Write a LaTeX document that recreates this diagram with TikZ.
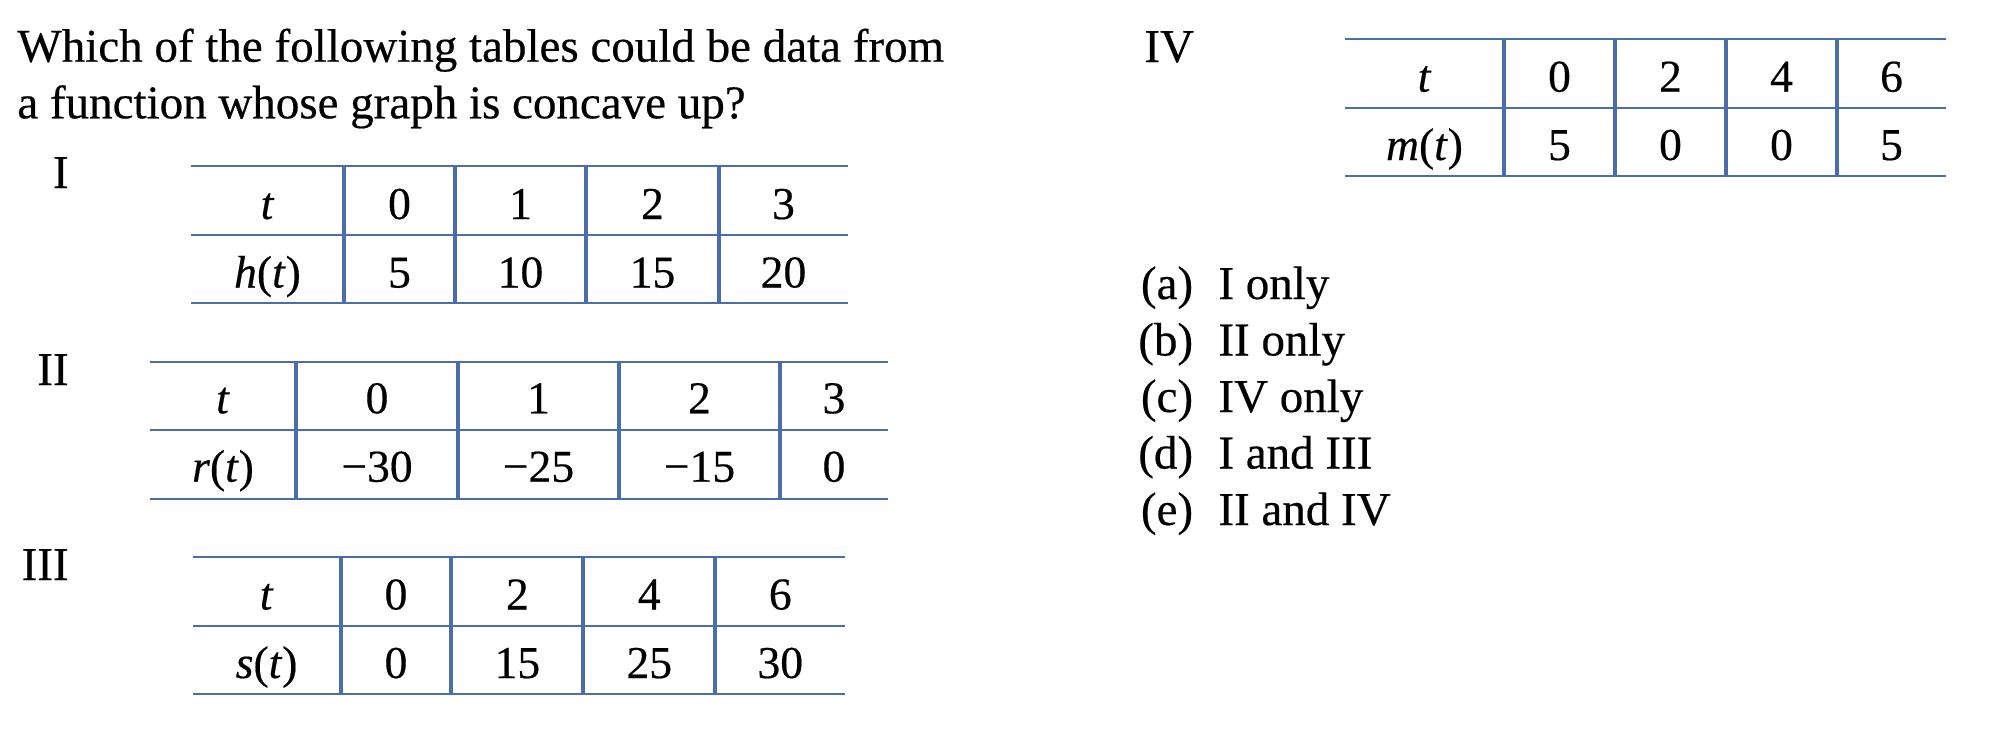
\documentclass[tikz,border=0pt]{standalone}
\usepackage{fontspec}
\setmainfont{Liberation Serif}[FakeBold=0.4]
\definecolor{rulec}{RGB}{76,110,168}
\begin{document}
\begin{tikzpicture}[x=0.5pt,y=-0.5pt,
  hrule/.style={draw=rulec,line width=1.15pt},
  vrule/.style={draw=rulec,line width=2pt},
  cell/.style={anchor=base,inner sep=0pt,font=\fontsize{22.8pt}{26pt}\selectfont},
  txt/.style={anchor=base west,inner sep=0pt,font=\fontsize{23.5pt}{28pt}\selectfont},
  rlab/.style={anchor=base east,inner sep=0pt,font=\fontsize{23.5pt}{28pt}\selectfont}]
\useasboundingbox (0,0) rectangle (2014,740);

% question
\node[txt] (q1) at (17,61.7) {Which of the following tables could be data from};
\node[txt] (q2) at (17,118.3) {a function whose graph is concave up?};

% labels
\node[rlab] (labI) at (69,188) {I};
\node[rlab] (labII) at (69,385) {II};
\node[rlab] (labIII) at (69,580) {III};
\node[txt] (labIV) at (1144,62) {IV};

% Table I
\draw[hrule] (191,166) -- (848,166) (191,235) -- (848,235) (191,303) -- (848,303);
\foreach \x in {344,455,586,719} \draw[vrule] (\x,166) -- (\x,303);
\foreach \x/\a/\b [count=\i] in {267.5/\textit{t}/\textit{h}(\textit{t}), 399.5/0/5, 520.5/1/10, 652.5/2/15, 783.5/3/20}{
  \node[cell] (tIa\i) at (\x,219) {\a};
  \node[cell] (tIb\i) at (\x,287.5) {\b};
}

% Table II
\draw[hrule] (150,362.3) -- (888,362.3) (150,430.3) -- (888,430.3) (150,499) -- (888,499);
\foreach \x in {296,458,619,780} \draw[vrule] (\x,362.3) -- (\x,499);
\foreach \x/\a/\b [count=\i] in {223/\textit{t}/\textit{r}(\textit{t}), 377/0/−30, 538.5/1/−25, 699.5/2/−15, 834/3/0}{
  \node[cell] (tIIa\i) at (\x,413.3) {\a};
  \node[cell] (tIIb\i) at (\x,481.7) {\b};
}

% Table III
\draw[hrule] (192.7,557.3) -- (845.3,557.3) (192.7,626) -- (845.3,626) (192.7,694.3) -- (845.3,694.3);
\foreach \x in {340.5,451.4,583.3,715.3} \draw[vrule] (\x,557.3) -- (\x,694.3);
\foreach \x/\a/\b [count=\i] in {266.6/\textit{t}/\textit{s}(\textit{t}), 396/0/0, 517.4/2/15, 649.3/4/25, 780.3/6/30}{
  \node[cell] (tIIIa\i) at (\x,609.5) {\a};
  \node[cell] (tIIIb\i) at (\x,678) {\b};
}

% Table IV
\draw[hrule] (1345,39.3) -- (1946,39.3) (1345,107.7) -- (1946,107.7) (1345,175.7) -- (1946,175.7);
\foreach \x in {1504,1615,1726,1837} \draw[vrule] (\x,39.3) -- (\x,175.7);
\foreach \x/\a/\b [count=\i] in {1424.5/\textit{t}/\textit{m}(\textit{t}), 1559.5/0/5, 1670.5/2/0, 1781.5/4/0, 1891.5/6/5}{
  \node[cell] (tIVa\i) at (\x,91.7) {\a};
  \node[cell] (tIVb\i) at (\x,160) {\b};
}

% options
\foreach \l/\t [count=\i] in {(a)/I only, (b)/II only, (c)/IV only, (d)/I and III, (e)/II and IV}{
  \node[rlab] (optl\i) at (1193.5,{299+56.5*(\i-1)}) {\l};
  \node[txt] (opt\i) at (1218,{299+56.5*(\i-1)}) {\t};
}
\end{tikzpicture}
\end{document}
